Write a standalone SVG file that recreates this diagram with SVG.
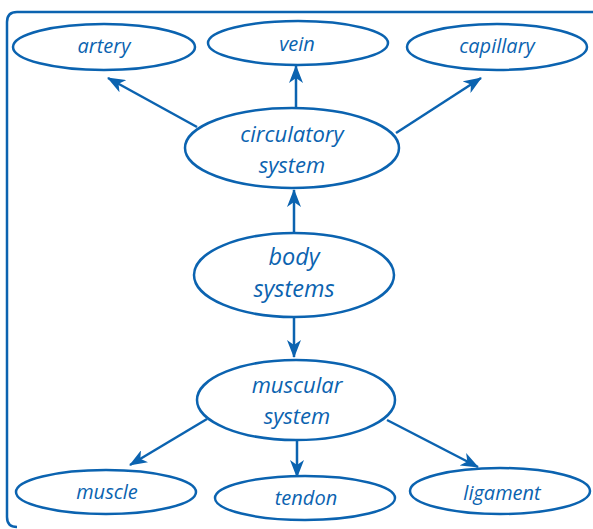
<svg xmlns="http://www.w3.org/2000/svg" width="593" height="529" viewBox="0 0 593 529">
<style>
.n ellipse{fill:#fff;stroke:#0b63b0;stroke-width:2.5}
.n text{fill:#0b63b0;font-family:"Open Sans","Noto Sans","DejaVu Sans",sans-serif;font-style:italic;text-anchor:middle;dominant-baseline:central}
.c line{stroke:#0b63b0;stroke-width:2.5;marker-end:url(#ah)}
</style>
<defs>
<marker id="ah" viewBox="0 0 18 14" refX="17" refY="7" markerWidth="18" markerHeight="14" markerUnits="userSpaceOnUse" orient="auto">
<path d="M0,0 L18,7 L0,14 L5,7 Z" fill="#0b63b0"/>
</marker>
</defs>
<rect x="0" y="0" width="593" height="529" fill="#fff"/>
<path d="M600,12 H17 Q7,12 7,22 V517 Q7,527 17,527" fill="none" stroke="#0b63b0" stroke-width="2.5"/>
<g class="c" id="connectors">
<line x1="197" y1="127" x2="108" y2="78"/>
<line x1="296" y1="108" x2="296" y2="66"/>
<line x1="396" y1="133" x2="481" y2="78"/>
<line x1="294" y1="233" x2="294" y2="190"/>
<line x1="294" y1="318" x2="294" y2="357"/>
<line x1="207" y1="419" x2="130" y2="465"/>
<line x1="297" y1="441" x2="297" y2="477"/>
<line x1="387" y1="420" x2="478" y2="467"/>
</g>
<g class="n" id="artery"><ellipse cx="104" cy="47" rx="91" ry="23"/><text x="104" y="45" font-size="20">artery</text></g>
<g class="n" id="vein"><ellipse cx="298" cy="43" rx="90" ry="22"/><text x="297" y="43" font-size="20">vein</text></g>
<g class="n" id="capillary"><ellipse cx="497" cy="47" rx="90" ry="23"/><text x="497" y="45" font-size="20">capillary</text></g>
<g class="n" id="circulatory"><ellipse cx="292" cy="148" rx="107" ry="40"/><text x="292" y="132.5" font-size="22">circulatory</text><text x="292" y="163.5" font-size="22">system</text></g>
<g class="n" id="body"><ellipse cx="294" cy="275" rx="100" ry="42"/><text x="294" y="256" font-size="23.5">body</text><text x="294" y="288" font-size="23.5">systems</text></g>
<g class="n" id="muscular"><ellipse cx="296" cy="400" rx="99" ry="40"/><text x="297" y="384" font-size="22">muscular</text><text x="297" y="415" font-size="22">system</text></g>
<g class="n" id="muscle"><ellipse cx="106" cy="492" rx="90" ry="22"/><text x="107" y="491" font-size="20">muscle</text></g>
<g class="n" id="tendon"><ellipse cx="305" cy="498" rx="90" ry="22"/><text x="306" y="497" font-size="20">tendon</text></g>
<g class="n" id="ligament"><ellipse cx="500" cy="491" rx="90" ry="23"/><text x="502" y="492" font-size="20">ligament</text></g>
</svg>
